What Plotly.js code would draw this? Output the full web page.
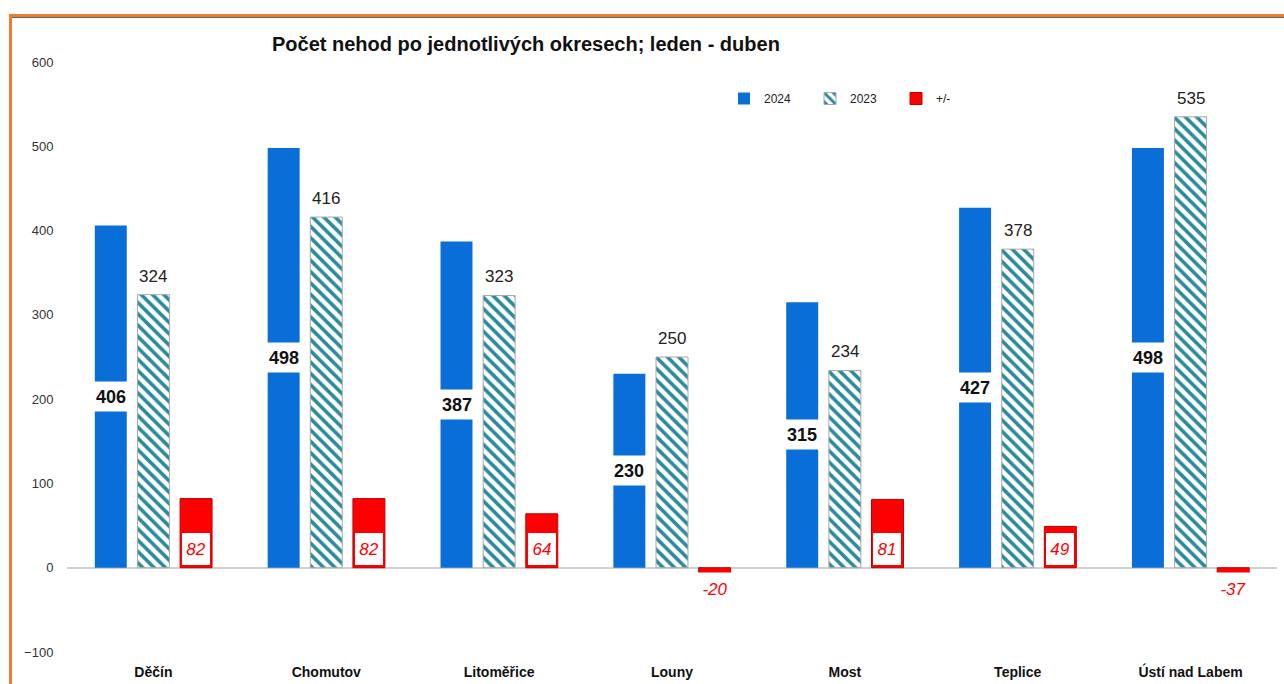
<!DOCTYPE html>
<html><head><meta charset="utf-8">
<script src="https://cdn.plot.ly/plotly-3.0.1.min.js"></script>
<style>
html,body{margin:0;padding:0;background:#fff;overflow:hidden;}
#chart{width:1284px;height:684px;}
#frame{position:absolute;left:9px;top:14px;width:1300px;height:700px;border-top:3px solid #ED7D31;border-left:3px solid #ED7D31;pointer-events:none;}
#frame2{position:absolute;left:12px;top:17px;width:1300px;height:1px;background:#666;pointer-events:none;}
</style></head>
<body>
<div id="chart"></div>
<div id="frame"></div>
<div id="frame2"></div>
<script>
const districts = ['Děčín','Chomutov','Litoměřice','Louny','Most','Teplice','Ústí nad Labem'];
const values2024 = [406,498,387,230,315,427,498];
const values2023 = [324,416,323,250,234,378,535];
const diffs = [82,82,64,-20,81,49,-37];
const yTicks = [-100,0,100,200,300,400,500,600];

const FONT = 'Liberation Sans, Arial, sans-serif';
const SLOT = 42.6;

const traces = [
  {type:'bar', name:'2024', x:districts, y:values2024,
   marker:{color:'#0A6ED8', line:{width:0}}, hoverinfo:'y'},
  {type:'bar', name:'2023', x:districts, y:values2023,
   marker:{color:'#ffffff', pattern:{shape:'\\', fgcolor:'#2B8A9B', bgcolor:'#ffffff', size:8, solidity:0.45},
           line:{color:'#a9a9a9', width:1}}, hoverinfo:'y'},
  {type:'bar', name:'+/-', x:districts, y:diffs,
   marker:{color:'#FF0000', line:{color:'#C00000', width:1}}, hoverinfo:'y'}
];

const annotations = [];
districts.forEach((d,i)=>{
  annotations.push({x:d, y:values2024[i]/2, xref:'x', yref:'y', text:'<b>'+values2024[i]+'</b>',
    showarrow:false, xshift:-SLOT, bgcolor:'#ffffff', width:32, height:27,
    font:{family:FONT, size:18, color:'#111'}});
  annotations.push({x:d, y:values2023[i], xref:'x', yref:'y', text:String(values2023[i]),
    showarrow:false, yanchor:'bottom', yshift:7,
    font:{family:FONT, size:17, color:'#222'}});
  const v = diffs[i];
  const pos = v>=0;
  annotations.push({x:d, y:0, xref:'x', yref:'y', text:'<i>'+v+'</i>',
    showarrow:false, xshift:SLOT, yanchor: pos?'bottom':'top', yshift: pos?2:-4,
    bgcolor:'#ffffff', bordercolor: pos?'#FF0000':'rgba(0,0,0,0)', borderwidth:1,
    width: pos?26:32, height:30,
    font:{family:FONT, size:17, color:'#FF0000'}});
});

const layout = {
  width:1284, height:684,
  margin:{l:67, r:7, t:62, b:32},
  paper_bgcolor:'#ffffff', plot_bgcolor:'#ffffff',
  font:{family:FONT, color:'#222'},
  title:{text:'<b>Počet nehod po jednotlivých okresech; leden - duben</b>', font:{family:FONT, size:20, color:'#111'},
         xref:'container', yref:'container', x:272/1284, xanchor:'left', y:1-44/684, yanchor:'middle'},
  barmode:'group', bargap:0.26, bargroupgap:0.25,
  showlegend:true,
  legend:{orientation:'h', x:(724-67)/1210, xanchor:'left', y:(652-84)/590, yanchor:'top',
          font:{family:FONT, size:12, color:'#222'}, bgcolor:'rgba(0,0,0,0)', itemwidth:30, entrywidth:41, traceorder:'normal'},
  xaxis:{type:'category', showgrid:false, showline:false, ticks:'', zeroline:false, ticklabelstandoff:10,
         tickfont:{family:FONT, size:14, color:'#111', weight:'bold'}},
  yaxis:{range:[-100,600], tickvals:yTicks, showgrid:false, showline:false,
         zeroline:true, zerolinecolor:'#d0d0d0', zerolinewidth:2,
         ticks:'outside', ticklen:10, tickcolor:'rgba(0,0,0,0)',
         tickfont:{family:FONT, size:13, color:'#333'}},
  annotations:annotations
};

Plotly.newPlot('chart', traces, layout, {displayModeBar:false, staticPlot:true});
</script>
</body></html>
